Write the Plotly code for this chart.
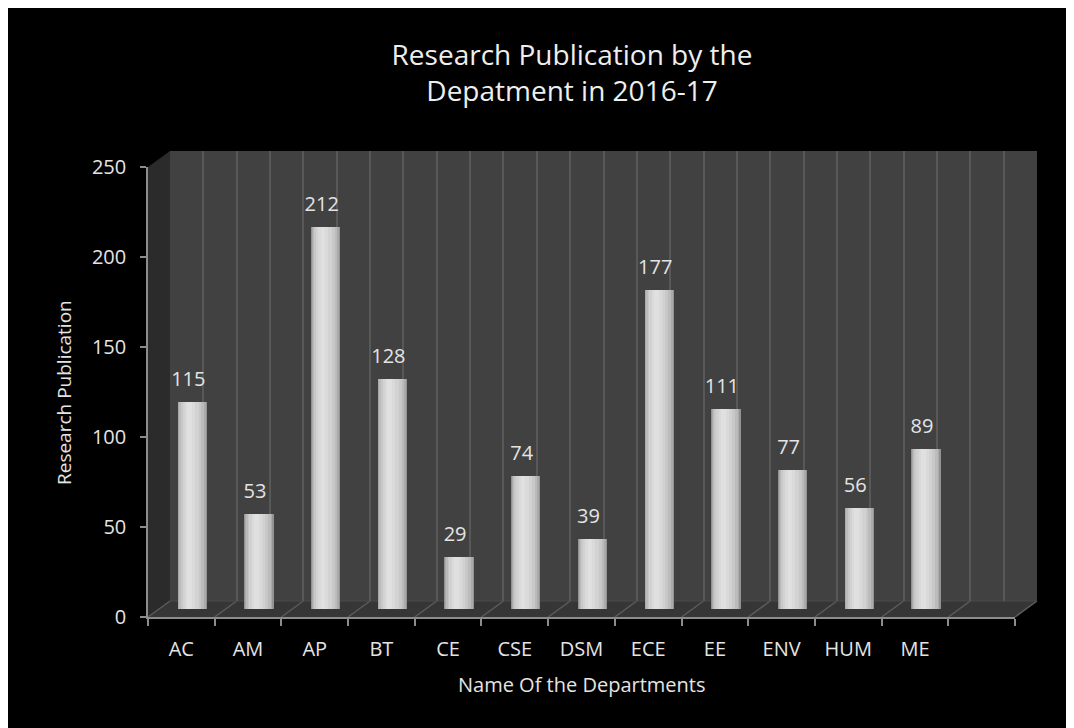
import plotly.graph_objects as go

W, H = 1074, 728

departments = ["AC", "AM", "AP", "BT", "CE", "CSE", "DSM", "ECE", "EE", "ENV", "HUM", "ME"]
publications = [115, 53, 212, 128, 29, 74, 39, 177, 111, 77, 56, 89]
y_ticks = [0, 50, 100, 150, 200, 250]
n_slots = 13  # 12 departments plus one empty slot at the right

title_text = "Research Publication by the<br>Depatment in 2016-17"
x_title = "Name Of the Departments"
y_title = "Research Publication"

FONT = "Open Sans"
TXT = "#e4e4e4"

# pixel geometry inside the figure (front plane, depth offset to back wall)
FX0, FX1, FY0, FY1 = 140, 1007, 609, 159
DX, DY = 22, -16


def px(x):
    return x / W


def py(y):
    return 1 - y / H


xpos = [i + 0.5 for i in range(len(departments))]

fig = go.Figure()

# cylinder-like shading built from overlaid bars of decreasing width
bar_layers = [
    (0.44, 0.00, "#939393"),
    (0.41, -0.004, "#aaaaaa"),
    (0.37, -0.010, "#bbbbbb"),
    (0.31, -0.018, "#c8c8c8"),
    (0.24, -0.026, "#d2d2d2"),
    (0.15, -0.034, "#dadada"),
    (0.07, -0.040, "#e0e0e0"),
]
for w, shift, col in bar_layers:
    fig.add_trace(go.Bar(
        x=xpos, y=publications, width=w, offset=-w / 2 + shift,
        marker=dict(color=col, line=dict(width=0)),
        xaxis="x2", yaxis="y2", hoverinfo="skip", showlegend=False,
    ))

# value labels
fig.add_trace(go.Scatter(
    x=xpos, y=publications, mode="markers+text",
    text=[str(v) for v in publications], textposition="top center",
    textfont=dict(family=FONT, size=20, color=TXT),
    marker=dict(size=16, opacity=0),
    xaxis="x4", yaxis="y4", hoverinfo="skip", showlegend=False,
))

# dummy traces so the back and front axes render
fig.add_trace(go.Scatter(x=[None], y=[None], xaxis="x3", yaxis="y3", showlegend=False))
fig.add_trace(go.Scatter(x=[None], y=[None], xaxis="x", yaxis="y", showlegend=False))

shapes = []
bx0, bx1, by0, by1 = FX0 + DX, FX1 + DX, FY0 + DY, FY1 + DY
# back wall
shapes.append(dict(type="rect", xref="paper", yref="paper", layer="below",
                   x0=px(bx0), x1=px(bx1), y0=py(by0), y1=py(by1),
                   fillcolor="#414141", line=dict(width=0)))
# left side wall
shapes.append(dict(type="path", xref="paper", yref="paper", layer="below",
                   path=f"M{px(FX0)},{py(FY0)} L{px(FX0)},{py(FY1)} L{px(bx0)},{py(by1)} L{px(bx0)},{py(by0)} Z",
                   fillcolor="#2b2b2b", line=dict(width=0)))
# floor
shapes.append(dict(type="path", xref="paper", yref="paper", layer="below",
                   path=f"M{px(FX0)},{py(FY0)} L{px(FX1)},{py(FY0)} L{px(bx1)},{py(by0)} L{px(bx0)},{py(by0)} Z",
                   fillcolor="#363636", line=dict(width=0)))
# floor diagonals
step = (FX1 - FX0) / n_slots
for k in range(n_slots + 1):
    x_front = FX0 + k * step
    shapes.append(dict(type="line", xref="paper", yref="paper", layer="below",
                       x0=px(x_front), y0=py(FY0), x1=px(x_front + DX), y1=py(by0),
                       line=dict(color="#5c5c5c", width=1.5)))
# floor back edge
shapes.append(dict(type="line", xref="paper", yref="paper", layer="below",
                   x0=px(bx0), y0=py(by0), x1=px(bx1), y1=py(by0),
                   line=dict(color="#4a4a4a", width=1)))

axis_common = dict(showgrid=False, zeroline=False, fixedrange=True, automargin=False)
hidden = dict(showticklabels=False, ticks="", **axis_common)

fig.update_layout(
    width=W, height=H, autosize=False,
    margin=dict(l=0, r=0, t=0, b=0, pad=0, autoexpand=False),
    paper_bgcolor="#000000", plot_bgcolor="rgba(0,0,0,0)",
    barmode="overlay", bargap=0,
    font=dict(family=FONT, color=TXT),
    showlegend=False,
    title=dict(text=title_text, x=564 / W, xanchor="center", y=py(57), yanchor="middle",
               font=dict(family=FONT, size=28, color="#eeeeee")),
    # back wall axes
    xaxis=dict(domain=[px(bx0), px(bx1)], range=[0, n_slots], anchor="y",
               showgrid=True, gridcolor="#585858", gridwidth=1.5, tick0=0, dtick=0.5,
               showticklabels=False, zeroline=False, showline=False, ticks="",
               fixedrange=True, automargin=False),
    yaxis=dict(domain=[py(by0), py(by1)], range=[0, 250], anchor="x", **hidden),
    # mid-depth axes (bars)
    xaxis2=dict(domain=[px(FX0 + DX / 2), px(FX1 + DX / 2)], range=[0, n_slots], anchor="y2", **hidden),
    yaxis2=dict(domain=[py(FY0 + DY / 2), py(FY1 + DY / 2)], range=[0, 250], anchor="x2", **hidden),
    # label axes
    xaxis4=dict(domain=[px(FX0 + 7), px(FX1 + 7)], range=[0, n_slots], anchor="y4", **hidden),
    yaxis4=dict(domain=[py(FY0 + DY / 2), py(FY1 + DY / 2)], range=[0, 250], anchor="x4", **hidden),
    # front axes (ticks, labels)
    xaxis3=dict(domain=[px(FX0), px(FX1)], range=[0, n_slots], anchor="y3",
                tickmode="array", tickvals=xpos, ticktext=departments,
                ticks="outside", ticklen=0, tickcolor="rgba(0,0,0,0)",
                ticklabelstandoff=13,
                minor=dict(tickmode="linear", tick0=0, dtick=1, ticks="outside",
                           ticklen=7, tickcolor="#8c8c8c", tickwidth=1.5),
                tickfont=dict(family=FONT, size=20, color=TXT),
                showline=True, linecolor="#8c8c8c", linewidth=1.5, **axis_common),
    yaxis3=dict(domain=[py(FY0), py(FY1)], range=[0, 250], anchor="x3",
                tickmode="array", tickvals=y_ticks,
                ticks="outside", ticklen=6, tickcolor="#8c8c8c", tickwidth=1.5,
                ticklabelstandoff=10,
                tickfont=dict(family=FONT, size=20, color=TXT),
                showline=True, linecolor="#8c8c8c", linewidth=1.5, **axis_common),
    shapes=shapes,
    annotations=[
        dict(text=x_title, xref="paper", yref="paper", x=px(573), y=py(676),
             xanchor="center", yanchor="middle", showarrow=False,
             font=dict(family=FONT, size=20, color=TXT)),
        dict(text=y_title, xref="paper", yref="paper", x=px(56), y=py(385),
             xanchor="center", yanchor="middle", showarrow=False, textangle=-90,
             font=dict(family=FONT, size=19, color=TXT)),
    ],
)

fig.write_html("out.html")
